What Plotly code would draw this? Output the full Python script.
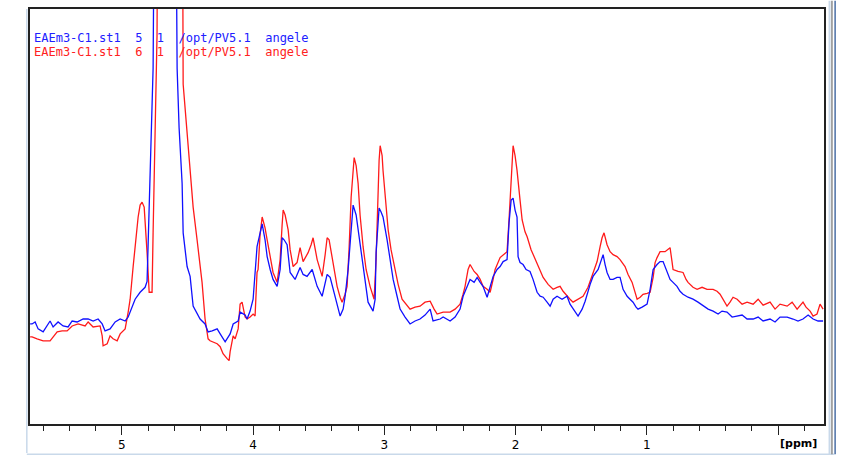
import plotly.graph_objects as go

# ---- data (ppm, intensity in arbitrary units) ----
blue_ppm = [5.699,5.684,5.661,5.638,5.600,5.570,5.547,5.524,5.486,5.448,5.410,5.379,5.341,5.295,5.257,5.219,5.181,5.150,5.128,5.090,5.051,5.013,4.975,4.952,4.922,4.899,4.861,4.823,4.808,4.792,4.777,4.762,4.747,4.594,4.579,4.564,4.541,4.533,4.503,4.480,4.457,4.427,4.404,4.366,4.343,4.312,4.274,4.251,4.213,4.175,4.152,4.114,4.099,4.061,4.046,4.023,4.000,3.970,3.947,3.931,3.909,3.893,3.870,3.848,3.817,3.794,3.779,3.764,3.741,3.718,3.680,3.642,3.619,3.589,3.550,3.512,3.474,3.451,3.436,3.413,3.375,3.337,3.314,3.299,3.276,3.261,3.238,3.215,3.200,3.162,3.124,3.086,3.070,3.063,3.040,3.025,3.010,2.979,2.956,2.933,2.903,2.880,2.842,2.804,2.766,2.728,2.690,2.651,2.629,2.575,2.552,2.499,2.461,2.423,2.400,2.370,2.347,2.316,2.293,2.270,2.248,2.217,2.194,2.171,2.141,2.118,2.095,2.065,2.050,2.034,2.019,2.004,1.989,1.981,1.966,1.943,1.920,1.890,1.867,1.836,1.813,1.790,1.760,1.737,1.714,1.684,1.646,1.608,1.585,1.562,1.524,1.493,1.470,1.432,1.410,1.371,1.349,1.333,1.318,1.303,1.280,1.257,1.227,1.204,1.181,1.150,1.128,1.105,1.082,1.067,1.036,0.998,0.975,0.952,0.922,0.899,0.876,0.853,0.823,0.800,0.770,0.747,0.724,0.686,0.648,0.610,0.571,0.533,0.495,0.457,0.427,0.389,0.350,0.312,0.274,0.236,0.190,0.152,0.114,0.061,0.023,-0.015,-0.069,-0.114,-0.152,-0.190,-0.229,-0.267,-0.305,-0.343]
blue_int = [101,101,103,96,93,99,104,98,103,99,98,104,103,106,106,104,106,101,94,96,103,106,104,108,118,126,133,138,144,226,286,359,650,650,359,299,243,193,159,149,119,111,106,101,93,94,96,91,83,91,101,104,113,110,106,114,126,179,194,202,186,169,156,146,139,156,188,186,181,153,146,158,151,149,156,139,129,141,151,148,129,109,116,129,156,179,221,211,196,156,123,114,126,173,218,214,209,186,164,146,129,116,108,101,104,106,110,116,104,106,108,104,108,116,129,138,146,143,148,143,139,128,138,149,156,159,164,166,203,226,228,216,209,169,163,161,156,154,146,133,129,128,123,119,126,129,126,129,121,116,109,116,124,141,149,156,166,171,161,153,146,146,148,148,136,129,126,123,118,116,118,121,136,156,161,164,164,156,146,143,139,134,131,128,126,123,119,116,114,111,114,113,108,109,110,106,106,108,104,106,103,108,108,106,104,106,110,106,104,104]

red_ppm = [5.699,5.684,5.646,5.600,5.547,5.524,5.493,5.455,5.417,5.379,5.333,5.280,5.257,5.219,5.166,5.150,5.143,5.112,5.090,5.067,5.036,5.013,4.975,4.952,4.937,4.914,4.899,4.876,4.861,4.846,4.830,4.815,4.808,4.792,4.770,4.762,4.747,4.732,4.724,4.541,4.533,4.503,4.480,4.457,4.427,4.389,4.366,4.343,4.328,4.274,4.251,4.229,4.198,4.183,4.175,4.152,4.137,4.114,4.099,4.084,4.061,4.046,4.023,4.000,3.985,3.970,3.962,3.947,3.931,3.909,3.893,3.870,3.848,3.817,3.794,3.779,3.771,3.756,3.733,3.718,3.695,3.665,3.642,3.619,3.604,3.581,3.558,3.543,3.512,3.490,3.474,3.451,3.436,3.421,3.398,3.375,3.360,3.337,3.322,3.299,3.284,3.269,3.253,3.230,3.215,3.200,3.185,3.162,3.139,3.109,3.078,3.063,3.055,3.040,3.032,3.017,3.010,2.987,2.971,2.949,2.918,2.895,2.865,2.834,2.804,2.766,2.728,2.690,2.651,2.621,2.598,2.552,2.499,2.461,2.423,2.400,2.385,2.362,2.347,2.316,2.293,2.270,2.248,2.217,2.194,2.171,2.156,2.118,2.095,2.065,2.050,2.042,2.027,2.019,2.004,1.989,1.966,1.950,1.928,1.912,1.882,1.851,1.813,1.790,1.752,1.714,1.684,1.661,1.638,1.608,1.585,1.562,1.524,1.486,1.448,1.410,1.379,1.356,1.341,1.326,1.303,1.280,1.257,1.227,1.204,1.166,1.143,1.112,1.090,1.074,1.051,1.029,0.998,0.975,0.952,0.937,0.922,0.899,0.861,0.838,0.823,0.808,0.800,0.762,0.724,0.701,0.686,0.648,0.617,0.579,0.541,0.495,0.465,0.442,0.411,0.389,0.366,0.343,0.312,0.274,0.236,0.190,0.152,0.114,0.061,0.023,-0.015,-0.069,-0.107,-0.145,-0.190,-0.213,-0.244,-0.267,-0.297,-0.320,-0.343]
red_int = [88,88,86,84,84,88,93,94,94,99,101,99,103,98,99,89,79,81,89,86,84,91,96,113,126,159,181,209,221,224,219,191,173,133,133,193,293,393,650,650,343,293,253,219,186,143,106,86,84,81,78,71,66,64,73,89,86,96,121,123,108,106,108,111,109,153,156,191,209,198,186,168,153,143,166,201,216,211,196,176,159,163,178,164,168,173,181,188,166,156,149,171,188,186,169,151,139,128,123,131,139,176,229,269,261,243,211,179,156,139,126,166,203,266,281,271,256,216,196,176,156,141,126,121,116,118,119,123,124,116,111,113,113,116,121,131,139,156,161,154,151,146,139,136,133,146,156,168,171,174,206,229,266,281,271,256,226,206,194,189,176,166,154,148,141,136,138,139,134,129,126,123,126,129,138,153,164,179,188,193,181,174,171,169,166,159,151,143,134,126,128,131,132,133,148,163,168,174,174,176,178,164,156,154,153,146,143,138,136,138,136,136,134,131,124,119,123,128,126,121,123,121,126,120,123,116,121,119,123,116,123,118,114,109,111,121,116]

legend_blue = "EAEm3-C1.st1  5  1  /opt/PV5.1  angele"
legend_red = "EAEm3-C1.st1  6  1  /opt/PV5.1  angele"
tick_vals = [0, 1, 2, 3, 4, 5]
tick_text = ["", "1", "2", "3", "4", "5"]
x_range = [5.70, -0.35]
y_range = [0, 419]

fig = go.Figure()
fig.add_trace(go.Scatter(x=red_ppm, y=red_int, mode="lines",
                         line=dict(color="#ff1a1a", width=1.3), showlegend=False))
fig.add_trace(go.Scatter(x=blue_ppm, y=blue_int, mode="lines",
                         line=dict(color="#1010ff", width=1.3), showlegend=False))

fig.update_layout(
    width=846, height=459,
    margin=dict(l=30, r=22, t=7, b=33),
    paper_bgcolor="white", plot_bgcolor="white",
    font=dict(family="DejaVu Sans", size=12, color="#000"),
    xaxis=dict(range=x_range, showgrid=False, zeroline=False,
               showline=True, linecolor="#222", linewidth=1.5, mirror=True,
               ticks="outside", ticklen=9, tickwidth=1, tickcolor="#222",
               tickvals=tick_vals, ticktext=tick_text,
               tickfont=dict(family="DejaVu Sans", size=12, color="#000"),
               minor=dict(dtick=0.2, tick0=0, ticks="outside", ticklen=5,
                          tickwidth=1, tickcolor="#222", showgrid=False)),
    yaxis=dict(range=y_range, showgrid=False, zeroline=False,
               showline=True, linecolor="#222", linewidth=1.5, mirror=True,
               showticklabels=False, ticks=""),
)

fig.add_annotation(x=0, y=-0.026, xref="x", yref="paper", text="<b>[ppm]</b>",
                   showarrow=False, xanchor="left", yanchor="top",
                   font=dict(family="DejaVu Sans", size=11, color="#000"))
fig.add_annotation(x=0.002, y=0.93, xref="paper", yref="paper", text=legend_blue,
                   showarrow=False, xanchor="left", yanchor="middle",
                   font=dict(family="DejaVu Sans Mono", size=12, color="#2020ff"))
fig.add_annotation(x=0.002, y=0.897, xref="paper", yref="paper", text=legend_red,
                   showarrow=False, xanchor="left", yanchor="middle",
                   font=dict(family="DejaVu Sans Mono", size=12, color="#ff2020"))

# window chrome lines around the plot
fig.add_shape(type="line", xref="paper", yref="paper", x0=-0.004, x1=-0.004, y0=-0.07, y1=1.0,
              line=dict(color="#c9d9ea", width=1.5))
fig.add_shape(type="line", xref="paper", yref="paper", x0=-0.004, x1=1.013, y0=-0.073, y1=-0.073,
              line=dict(color="#c9d9ea", width=1.5))
fig.add_shape(type="line", xref="paper", yref="paper", x0=1.007, x1=1.007, y0=-0.073, y1=1.02,
              line=dict(color="#c9d9ea", width=2))
fig.add_shape(type="line", xref="paper", yref="paper", x0=1.010, x1=1.010, y0=-0.073, y1=1.02,
              line=dict(color="#8c8c8c", width=1.5))
fig.add_shape(type="line", xref="paper", yref="paper", x0=1.014, x1=1.014, y0=-0.073, y1=1.02,
              line=dict(color="#4a6fa5", width=1.5))

fig.write_html("out.html")
